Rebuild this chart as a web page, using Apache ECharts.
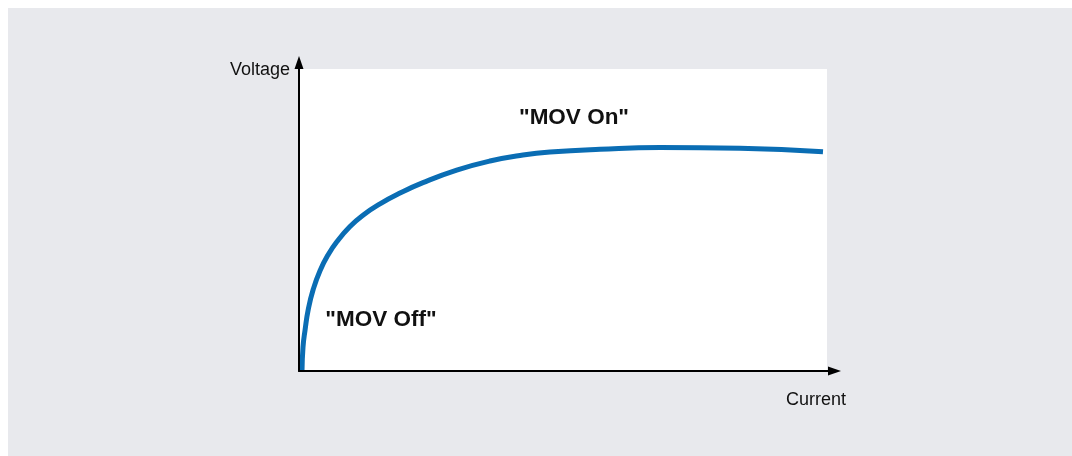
<!DOCTYPE html>
<html>
<head>
<meta charset="utf-8">
<script src="https://cdn.jsdelivr.net/npm/echarts@6/dist/echarts.min.js"></script>
<style>
  html, body { margin: 0; padding: 0; background: #ffffff; }
  #bg { position: absolute; left: 8px; top: 8px; width: 1064px; height: 448px; background: #e8e9ed; }
  #chart { position: absolute; left: 0; top: 0; width: 1072px; height: 456px; }
</style>
</head>
<body>
<div id="bg"></div>
<div id="chart"></div>
<script>
// Current (x, % of plot width) vs Voltage (y, % of plot height)
const currentVals = [0.57, 0.76, 1.14, 1.76, 2.71, 3.98, 5.55, 7.20, 9.66, 12.12, 15.34, 19.13, 23.48, 29.87, 36.17, 42.42, 47.54, 57.01, 68.37, 83.52, 99.24];
const voltageVals = [0, 7.95, 13.48, 20.43, 27.12, 33.21, 38.61, 42.88, 47.85, 51.59, 55.33, 58.91, 62.38, 66.52, 69.54, 71.52, 72.52, 73.41, 73.97, 73.74, 72.62];
const axisNames = ['Current', 'Voltage'];
const regionLabels = ['"MOV On"', '"MOV Off"'];

const chart = echarts.init(document.getElementById('chart'), null, { renderer: 'canvas' });
const font = '"Liberation Sans", Arial, Helvetica, sans-serif';
const axisCommon = {
  type: 'value',
  min: 0,
  axisTick: { show: false },
  axisLabel: { show: false },
  splitLine: { show: false },
  z: 5,
  axisLine: {
    show: true,
    onZero: false,
    symbol: ['none', 'triangle'],
    symbolSize: [9, 13],
    lineStyle: { color: '#000', width: 2 }
  }
};
chart.setOption({
  backgroundColor: 'transparent',
  animation: false,
  grid: { left: 299, right: 237.5, top: 62.5, bottom: 85 },
  xAxis: Object.assign({}, axisCommon, { max: 101.42 }),
  yAxis: Object.assign({}, axisCommon, { max: 102.15 }),
  series: [{
    type: 'line',
    data: currentVals.map((x, i) => [x, voltageVals[i]]),
    smooth: 0.5,
    showSymbol: false,
    lineStyle: { color: '#0a6db4', width: 5 },
    markArea: {
      silent: true,
      itemStyle: { color: '#ffffff' },
      data: [[{ coord: [0, 0] }, { coord: [100, 100] }]]
    },
    z: 3
  }],
  graphic: [
    { type: 'text', x: 290, y: 70, style: { text: axisNames[1], font: '18px ' + font, fill: '#111', textAlign: 'right', textVerticalAlign: 'middle' } },
    { type: 'text', x: 816, y: 400, style: { text: axisNames[0], font: '18px ' + font, fill: '#111', textAlign: 'center', textVerticalAlign: 'middle' } },
    { type: 'text', x: 574, y: 118, z: 10, style: { text: regionLabels[0], font: 'bold 22.5px ' + font, fill: '#111', textAlign: 'center', textVerticalAlign: 'middle' } },
    { type: 'text', x: 381, y: 320, z: 10, style: { text: regionLabels[1], font: 'bold 22.5px ' + font, fill: '#111', textAlign: 'center', textVerticalAlign: 'middle' } }
  ]
});
</script>
</body>
</html>
